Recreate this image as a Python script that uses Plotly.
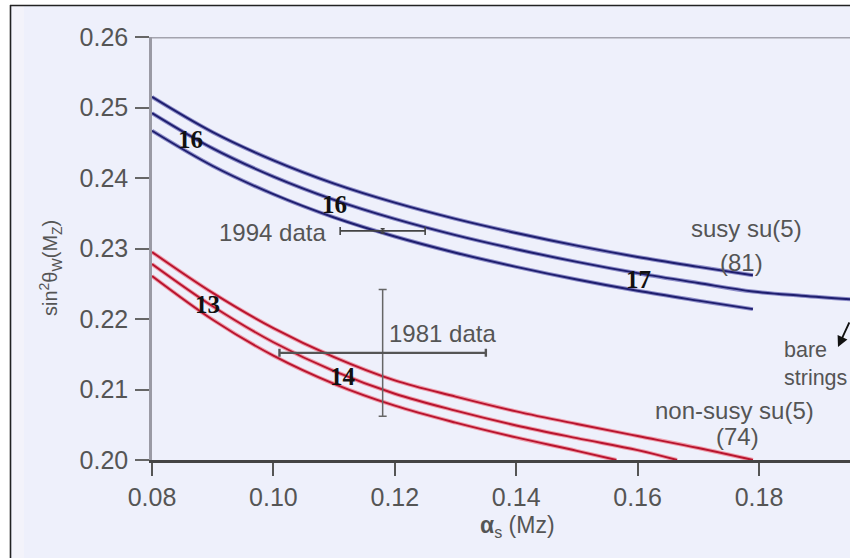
import plotly.graph_objects as go

# ---------------- data ----------------
x_blue = [0.080, 0.090, 0.100, 0.110, 0.120, 0.130, 0.140, 0.150, 0.160, 0.170, 0.179]
blue_upper = [0.2515, 0.2465, 0.2425, 0.2392, 0.2365, 0.2342, 0.2322, 0.2304, 0.2288, 0.2274, 0.2262]
blue_lower = [0.2467, 0.2417, 0.2377, 0.2344, 0.2317, 0.2294, 0.2274, 0.2256, 0.2240, 0.2226, 0.2214]
x_blue_mid = [0.080, 0.090, 0.100, 0.110, 0.120, 0.130, 0.140, 0.150, 0.160, 0.170, 0.179, 0.187, 0.195]
blue_mid = [0.2492, 0.2442, 0.2402, 0.2369, 0.2342, 0.2319, 0.2299, 0.2281, 0.2265, 0.2251, 0.2239, 0.2233, 0.2228]

x_red_upper = [0.080, 0.090, 0.100, 0.110, 0.120, 0.130, 0.140, 0.150, 0.160, 0.170, 0.179]
red_upper = [0.2295, 0.2237, 0.2187, 0.2146, 0.2113, 0.2090, 0.2069, 0.2051, 0.2034, 0.2017, 0.2000]
x_red_mid = [0.080, 0.090, 0.100, 0.110, 0.120, 0.130, 0.140, 0.150, 0.160, 0.1665]
red_mid = [0.2278, 0.2218, 0.2167, 0.2126, 0.2094, 0.2070, 0.2049, 0.2031, 0.2014, 0.2000]
x_red_lower = [0.080, 0.090, 0.100, 0.110, 0.120, 0.130, 0.140, 0.150, 0.1565]
red_lower = [0.2261, 0.2199, 0.2148, 0.2108, 0.2077, 0.2053, 0.2032, 0.2013, 0.2000]

data1994 = dict(x=0.118, y=0.2325, ex=0.007, ey=0.0003)
data1981 = dict(x=0.118, y=0.2152, ex=0.017, ey=0.009)

x_ticks = [0.08, 0.10, 0.12, 0.14, 0.16, 0.18]
x_ticklabels = ["0.08", "0.10", "0.12", "0.14", "0.16", "0.18"]
y_ticks = [0.20, 0.21, 0.22, 0.23, 0.24, 0.25, 0.26]
y_ticklabels = ["0.20", "0.21", "0.22", "0.23", "0.24", "0.25", "0.26"]

curve_labels = [  # (x, y, text)
    (0.0863, 0.2454, "16"),
    (0.1101, 0.2362, "16"),
    (0.1601, 0.2256, "17"),
    (0.0892, 0.2220, "13"),
    (0.1115, 0.2119, "14"),
]

# ---------------- layout geometry ----------------
W, H = 850, 558
L, R, T, B = 152, 0, 37, 98
PW, PH = W - L - R, H - T - B

def px(xp):
    return (xp - L) / PW

def py(yp):
    return (H - B - yp) / PH

BG = "#EEF0FB"
TXT = "#555555"
FONT = "Liberation Sans, Arial, sans-serif"
SERIF = "Liberation Serif, DejaVu Serif, serif"

fig = go.Figure()

def curve(xs, ys, core, halo):
    fig.add_trace(go.Scatter(x=xs, y=ys, mode="lines", line=dict(color=halo, width=4.0, shape="spline", smoothing=1.0),
                             hoverinfo="skip", showlegend=False))
    fig.add_trace(go.Scatter(x=xs, y=ys, mode="lines", line=dict(color=core, width=1.9, shape="spline", smoothing=1.0),
                             hoverinfo="skip", showlegend=False))

BLUE, BLUE_H = "#1e1e6e", "#8c8cc8"
RED, RED_H = "#b8142e", "#ee9aa8"
curve(x_blue, blue_upper, BLUE, BLUE_H)
curve(x_blue_mid, blue_mid, BLUE, BLUE_H)
curve(x_blue, blue_lower, BLUE, BLUE_H)
curve(x_red_upper, red_upper, RED, RED_H)
curve(x_red_mid, red_mid, RED, RED_H)
curve(x_red_lower, red_lower, RED, RED_H)

# data points with error bars
fig.add_trace(go.Scatter(
    x=[data1994["x"]], y=[data1994["y"]], mode="markers", marker=dict(size=1, color="#444"),
    error_x=dict(type="data", array=[data1994["ex"]], color="#444", thickness=1.6, width=4),
    error_y=dict(type="data", array=[data1994["ey"]], color="#444", thickness=1.6, width=2),
    hoverinfo="skip", showlegend=False))
fig.add_trace(go.Scatter(
    x=[data1981["x"]], y=[data1981["y"]], mode="markers", marker=dict(size=1, color="#555"),
    error_x=dict(type="data", array=[data1981["ex"]], color="#555", thickness=2.4, width=4),
    error_y=dict(type="data", array=[data1981["ey"]], color="#666", thickness=1.5, width=4),
    hoverinfo="skip", showlegend=False))

shapes = []
# white outer margin + black frame
shapes.append(dict(type="rect", xref="paper", yref="paper", x0=px(0), x1=px(W + 5), y0=py(0), y1=py(5),
                   fillcolor="white", line=dict(width=0), layer="below"))
shapes.append(dict(type="rect", xref="paper", yref="paper", x0=px(0), x1=px(10), y0=py(0), y1=py(H + 5),
                   fillcolor="white", line=dict(width=0), layer="below"))
shapes.append(dict(type="rect", xref="paper", yref="paper", x0=px(12), x1=px(24), y0=py(6), y1=py(H + 5),
                   fillcolor="#F3F3FA", line=dict(width=0), layer="below"))
shapes.append(dict(type="line", xref="paper", yref="paper", x0=px(10.5), x1=px(10.5), y0=py(5), y1=py(H + 5),
                   line=dict(color="#222", width=1.6)))
shapes.append(dict(type="line", xref="paper", yref="paper", x0=px(10), x1=px(W + 5), y0=py(5.5), y1=py(5.5),
                   line=dict(color="#222", width=1.6)))
# top grey line at 0.26
shapes.append(dict(type="line", xref="paper", yref="y", x0=0, x1=1, y0=0.26, y1=0.26,
                   line=dict(color="#A3A3AE", width=3)))

annotations = []
for (x, y, t) in curve_labels:
    annotations.append(dict(x=x, y=y, text="<b>" + t + "</b>", showarrow=False,
                            font=dict(family=SERIF, size=25, color="#111")))

def txt(xp, yp, t, anchor="center", size=24):
    annotations.append(dict(xref="paper", yref="paper", x=px(xp), y=py(yp), text=t, showarrow=False,
                            xanchor=anchor, yanchor="middle", font=dict(family=FONT, size=size, color=TXT)))

txt(328, 232, "1994 data", anchor="right")
txt(387, 333, "1981 data", anchor="left")
txt(746, 228, "susy su(5)")
txt(741, 262, "(81)")
txt(734, 410, "non-susy su(5)")
txt(737, 436, "(74)")
annotations.append(dict(xref="paper", yref="paper", x=px(782), y=py(364), text="bare<br>strings",
                        showarrow=False, xanchor="left", yanchor="middle", align="left",
                        font=dict(family=FONT, size=21.5, color=TXT)))
# arrow for bare strings
annotations.append(dict(xref="paper", yref="paper", x=px(838), y=py(347), ax=16, ay=-26, text="",
                        showarrow=True, arrowhead=2, arrowsize=1.2, arrowwidth=1.8, arrowcolor="#111"))
# axis titles
annotations.append(dict(xref="paper", yref="paper", x=px(517), y=py(526), showarrow=False,
                        xanchor="center", yanchor="middle",
                        text="<b>α</b><sub>s</sub> (Mz)", font=dict(family=FONT, size=23, color=TXT)))
annotations.append(dict(xref="paper", yref="paper", x=px(50), y=py(268), showarrow=False, textangle=-90,
                        xanchor="center", yanchor="middle",
                        text="sin<sup>2</sup>θ<sub>W</sub>(M<sub>Z</sub>)", font=dict(family=FONT, size=20, color=TXT)))

fig.update_layout(
    width=W, height=H,
    margin=dict(l=L, r=R, t=T, b=B),
    paper_bgcolor=BG, plot_bgcolor=BG,
    shapes=shapes, annotations=annotations,
    showlegend=False,
    xaxis=dict(range=[0.08, 0.08 + PW / 6070.0], tickvals=x_ticks, ticktext=x_ticklabels,
               showgrid=False, zeroline=False, showline=True, linecolor="#444", linewidth=2.5,
               ticks="outside", ticklen=13, tickwidth=1.5, tickcolor="#555",
               tickfont=dict(family=FONT, size=25, color=TXT), ticklabelstandoff=0),
    yaxis=dict(range=[0.20, 0.26], tickvals=y_ticks, ticktext=y_ticklabels,
               showgrid=False, zeroline=False, showline=True, linecolor="#9a9aa4", linewidth=2.5,
               ticks="outside", ticklen=14, tickwidth=1.5, tickcolor="#666",
               tickfont=dict(family=FONT, size=25, color=TXT), ticklabelstandoff=2),
)

fig.write_html("out.html")
